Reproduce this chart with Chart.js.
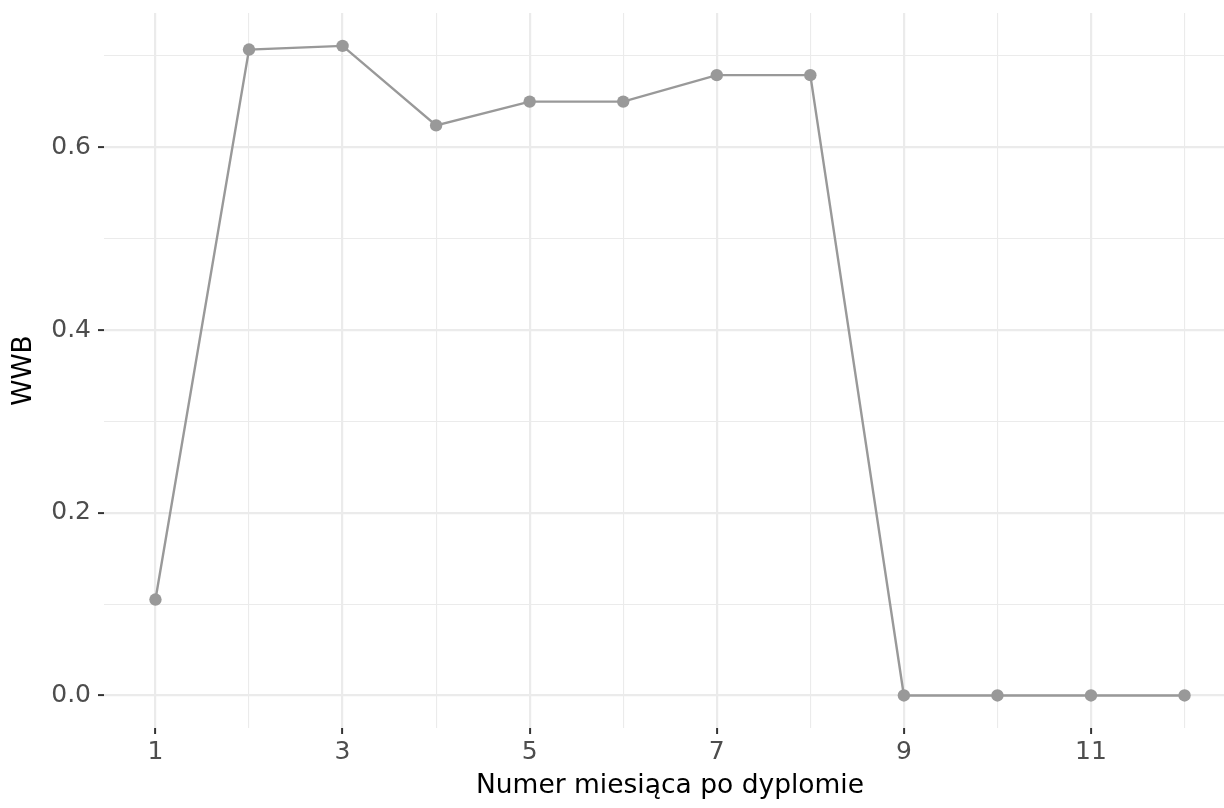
<!DOCTYPE html>
<html>
<head>
<meta charset="utf-8">
<script src="https://cdn.jsdelivr.net/npm/chart.js@4.4.1/dist/chart.umd.min.js"></script>
<style>
  html, body { margin: 0; padding: 0; background: #fff; overflow: hidden; }
  #wrap { position: absolute; left: 0; top: 0; width: 1246px; height: 808px; }
</style>
</head>
<body>
<div id="wrap"><canvas id="chart"></canvas></div>
<script>
// months after graduation and the WWB value
const months = [1, 2, 3, 4, 5, 6, 7, 8, 9, 10, 11, 12];
const wwb = [0.105, 0.707, 0.711, 0.624, 0.650, 0.650, 0.679, 0.679, 0, 0, 0, 0];

// axis breaks (major ones get labels, minor ones only a thin grid line)
const xMajor = [1, 3, 5, 7, 9, 11];
const xMinor = [2, 4, 6, 8, 10, 12];
const xTickLabels = ['1', '3', '5', '7', '9', '11'];
const yMajor = [0, 0.2, 0.4, 0.6];
const yMinor = [0.1, 0.3, 0.5, 0.7];
const yTickLabels = ['0.0', '0.2', '0.4', '0.6'];

const lineGrey = '#999999';
const gridGrey = '#EBEBEB';
const textGrey = '#4D4D4D';
const font = "'DejaVu Sans', sans-serif";

function isMajor(list, v) {
  return list.some(m => Math.abs(m - v) < 1e-9);
}

function setTicks(major, minor) {
  return scale => {
    scale.ticks = major.concat(minor).sort((a, b) => a - b).map(v => ({ value: v }));
  };
}

function axisGrid(major) {
  return {
    color: gridGrey,
    lineWidth: ctx => (ctx.tick && isMajor(major, ctx.tick.value)) ? 2.2 : 1.1,
    drawTicks: true,
    tickLength: 6,
    tickWidth: 2,
    tickColor: ctx => (ctx.tick && isMajor(major, ctx.tick.value)) ? '#333333' : 'rgba(0,0,0,0)'
  };
}

new Chart(document.getElementById('chart'), {
  type: 'line',
  data: {
    datasets: [{
      data: months.map((m, i) => ({ x: m, y: wwb[i] })),
      borderColor: lineGrey,
      borderWidth: 2.4,
      backgroundColor: lineGrey,
      pointBackgroundColor: lineGrey,
      pointBorderWidth: 0,
      pointRadius: 6.2,
      tension: 0,
      fill: false
    }]
  },
  options: {
    responsive: true,
    maintainAspectRatio: false,
    animation: false,
    layout: { padding: { top: 13, right: 10, bottom: 0, left: 0 } },
    plugins: {
      legend: { display: false },
      tooltip: { enabled: false }
    },
    scales: {
      x: {
        type: 'linear',
        min: 0.45,
        max: 12.55,
        afterBuildTicks: setTicks(xMajor, xMinor),
        afterFit: s => { s.height = 80; s.paddingLeft = 0; s.paddingRight = 0; },
        border: { display: false },
        grid: axisGrid(xMajor),
        ticks: {
          autoSkip: false,
          maxRotation: 0,
          padding: 3,
          color: textGrey,
          font: { family: font, size: 25 },
          callback: v => {
            const i = xMajor.findIndex(m => Math.abs(m - v) < 1e-9);
            return i >= 0 ? xTickLabels[i] : '';
          }
        },
        title: {
          display: true,
          text: 'Numer miesiąca po dyplomie',
          color: '#000000',
          font: { family: font, size: 26.5 },
          padding: { top: 0, bottom: 6 }
        }
      },
      y: {
        type: 'linear',
        min: -0.0356,
        max: 0.747,
        afterBuildTicks: setTicks(yMajor, yMinor),
        afterFit: s => { s.width = 104; s.paddingTop = 0; s.paddingBottom = 0; },
        border: { display: false },
        grid: axisGrid(yMajor),
        ticks: {
          autoSkip: false,
          padding: 7,
          color: textGrey,
          font: { family: font, size: 25 },
          callback: v => {
            const i = yMajor.findIndex(m => Math.abs(m - v) < 1e-9);
            return i >= 0 ? yTickLabels[i] : '';
          }
        },
        title: {
          display: true,
          text: 'WWB',
          color: '#000000',
          font: { family: font, size: 26.5 },
          padding: { top: 8, bottom: 0 }
        }
      }
    }
  }
});
</script>
</body>
</html>
